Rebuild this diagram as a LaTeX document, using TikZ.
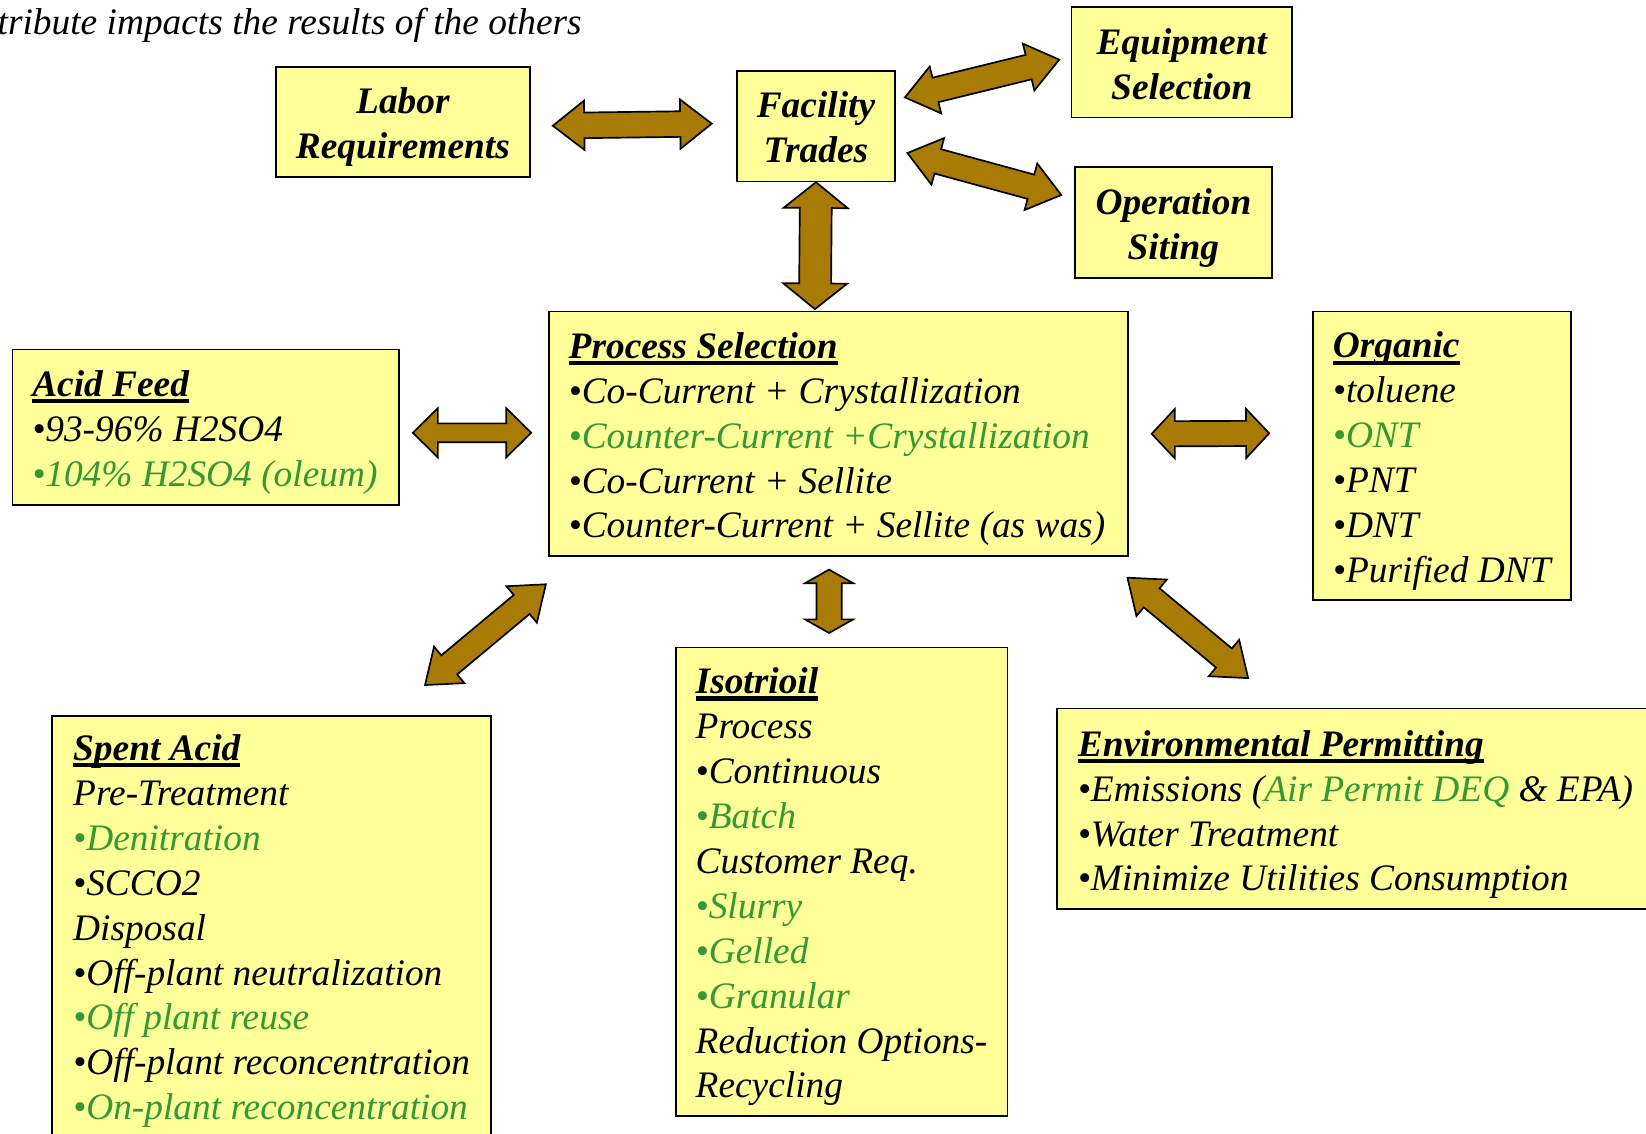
\documentclass[tikz,border=0pt]{standalone}
\usepackage{fontspec}
\setmainfont{Liberation Serif}
\usetikzlibrary{calc}

\definecolor{boxyellow}{RGB}{255,255,153}
\definecolor{arrowbrown}{RGB}{168,122,6}
\definecolor{itemgreen}{RGB}{51,153,51}

\newsavebox{\hdrbox}
\newcommand{\hdr}[1]{\sbox{\hdrbox}{\bfseries #1}\rlap{\rule[-3.3pt]{\wd\hdrbox}{2pt}}\usebox{\hdrbox}}
\newcommand{\gr}[1]{\textcolor{itemgreen}{#1}}

% block double arrow: tip, tip, head length, half head width, half shaft width
\newcommand{\dblarrow}[5]{%
  \path (#1) coordinate (ta) (#2) coordinate (tb)
    ($(ta)!#3!(tb)$) coordinate (ha)
    ($(tb)!#3!(ta)$) coordinate (hb);
  \draw[blockarrow] (ta)
    -- ($(ha)!#4!90:(tb)$) -- ($(ha)!#5!90:(tb)$)
    -- ($(hb)!#5!-90:(ta)$) -- ($(hb)!#4!-90:(ta)$)
    -- (tb)
    -- ($(hb)!#4!90:(ta)$) -- ($(hb)!#5!90:(ta)$)
    -- ($(ha)!#5!-90:(tb)$) -- ($(ha)!#4!-90:(tb)$) -- cycle;}

\tikzset{every picture/.style={line width=0.75pt}}
\tikzset{
  box/.style={draw=black, fill=boxyellow, line width=0.8pt, anchor=north west, inner sep=0pt},
  toptxt/.style={align=center, inner sep=0pt, font=\fontsize{17.8}{21.4}\selectfont\bfseries\itshape},
  listtxt/.style={anchor=west, align=left, inner sep=0pt, font=\fontsize{17.8}{21.4}\selectfont\itshape},
  blockarrow/.style={draw=black, fill=arrowbrown, line width=0.8pt, line join=miter},
}

\begin{document}
\begin{tikzpicture}[x=0.5pt,y=0.5pt,yscale=-1,xscale=1]
\useasboundingbox (0,0) rectangle (1568,1080);

% Text Node
\node[listtxt, anchor=base west] (caption) at (-3,33) {tribute impacts the results of the others};

%Shape: top boxes
\node[box, minimum width=121pt, minimum height=52.5pt] (labor) at (262,63) {};
\node[box, minimum width=75.5pt, minimum height=52.5pt] (trades) at (701,67) {};
\node[box, minimum width=105pt, minimum height=52.5pt] (equip) at (1020,6) {};
\node[box, minimum width=94pt, minimum height=53pt] (siting) at (1023,158) {};
% Text Node
\node[toptxt] (labortxt) at ($(labor.center)+(0,5)$) {Labor\\Requirements};
\node[toptxt] (tradestxt) at ($(trades.center)+(0,1)$) {Facility\\Trades};
\node[toptxt] (equiptxt) at ($(equip.center)+(0,2)$) {Equipment\\Selection};
\node[toptxt] (sitingtxt) at ($(siting.center)+(0,5)$) {Operation\\Siting};

%Shape: list boxes
\node[box, minimum width=276pt, minimum height=116.5pt] (process) at (522,296) {};
\node[box, minimum width=184pt, minimum height=74pt] (acid) at (11,332) {};
\node[box, minimum width=123pt, minimum height=137.5pt] (organic) at (1250,296) {};
\node[box, minimum width=209pt, minimum height=203pt] (spent) at (49,681) {};
\node[box, minimum width=158pt, minimum height=223pt] (isotrioil) at (643,616) {};
\node[box, minimum width=320pt, minimum height=95.5pt] (env) at (1006,674) {};

% Text Node
\node[listtxt] (processtxt) at ($(process.west)+(19,5)$) {\hdr{Process Selection}\\
  •Co-Current + Crystallization\\
  \gr{•Counter-Current +Crystallization}\\
  •Co-Current + Sellite\\
  •Counter-Current + Sellite (as was)};
% Text Node
\node[listtxt] (acidtxt) at ($(acid.west)+(19,5)$) {\hdr{Acid Feed}\\
  •93-96\% H2SO4\\
  \gr{•104\% H2SO4 (oleum)}};
% Text Node
\node[listtxt] (organictxt) at ($(organic.west)+(19,5)$) {\hdr{Organic}\\
  •toluene\\
  \gr{•ONT}\\
  •PNT\\
  •DNT\\
  •Purified DNT};
% Text Node
\node[listtxt] (spenttxt) at ($(spent.north west)+(20,206)$) {\hdr{Spent Acid}\\
  Pre-Treatment\\
  \gr{•Denitration}\\
  •SCCO2\\
  Disposal\\
  •Off-plant neutralization\\
  \gr{•Off plant reuse}\\
  •Off-plant reconcentration\\
  \gr{•On-plant reconcentration}};
% Text Node
\node[listtxt] (isotrioiltxt) at ($(isotrioil.west)+(19,5)$) {\hdr{Isotrioil}\\
  Process\\
  •Continuous\\
  \gr{•Batch}\\
  Customer Req.\\
  \gr{•Slurry}\\
  \gr{•Gelled}\\
  \gr{•Granular}\\
  Reduction Options-\\
  Recycling};
% Text Node
\node[listtxt] (envtxt) at ($(env.north west)+(20,102)$) {\hdr{Environmental Permitting}\\
  •Emissions (\gr{Air Permit DEQ} \& EPA)\\
  •Water Treatment\\
  •Minimize Utilities Consumption};

%Shape: double arrows
\dblarrow{$(labor.east)+(21,3.5)$}{$(trades.west)+(-23,-2.5)$}{15pt}{11.75pt}{6.1pt}
\dblarrow{$(trades.east)+(8.4,-27.5)$}{$(equip.west)+(-11,-2.5)$}{15pt}{11.5pt}{6pt}
\dblarrow{$(trades.east)+(10.8,25.5)$}{$(siting.west)+(-12,-26)$}{15pt}{11.5pt}{6pt}
\dblarrow{trades.south}{$(process.north)+(-22.5,-1.5)$}{12.25pt}{15.25pt}{7.6pt}
\dblarrow{$(acid.east)+(12.7,5.5)$}{$(process.west)+(-16,-1)$}{11.9pt}{11.75pt}{4.5pt}
\dblarrow{$(process.east)+(21.5,0)$}{$(organic.west)+(-41,-21.5)$}{11pt}{11.75pt}{6pt}
\dblarrow{$(process.south west)+(-2,26)$}{$(spent.north east)+(-63.7,-28.4)$}{15pt}{11.3pt}{5.9pt}
\dblarrow{$(process.south)+(-9,12)$}{$(isotrioil.north)+(-12,-13)$}{6.5pt}{11.5pt}{6pt}
\dblarrow{$(process.south east)+(-1.6,19.7)$}{$(env.north west)+(183,-28)$}{15pt}{11.3pt}{5.9pt}

\end{tikzpicture}
\end{document}
